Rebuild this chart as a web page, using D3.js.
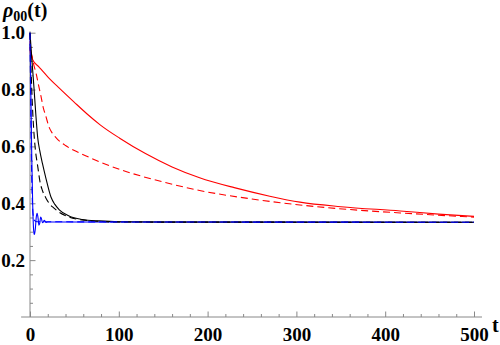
<!DOCTYPE html>
<html>
  <head>
    <style>
      body,
      html {
        margin: 0;
        padding: 0;
        background: #fff;
      }
      svg text {
        font-family: 'Liberation Serif', 'DejaVu Serif', 'Times New Roman', Times, serif !important;
        font-weight: bold;
        fill: #000;
      }
      .tick text {
        font-size: 19px;
      }
    </style>
  </head>
  <body>
    <svg id="svg" width="500" height="345"></svg>
    <script src="https://cdn.jsdelivr.net/npm/d3@7"></script>
    <script>
      // values: [t, rho00]
      const redSolid = [
        [0, 0.95], [0.5, 0.92], [1, 0.94], [1.5, 0.915], [2, 0.92], [3, 0.905],
        [10, 0.88], [20, 0.845], [33, 0.805], [50, 0.755], [64, 0.715], [79, 0.676],
        [101, 0.629], [130, 0.575], [160, 0.528], [191, 0.49], [230, 0.455],
        [270, 0.425], [304, 0.404], [350, 0.388], [417, 0.373], [460, 0.362], [500, 0.354]
      ];
      const redDashed = [
        [0, 0.97], [2, 0.92], [4, 0.89], [7, 0.855], [10, 0.81], [12.4, 0.776],
        [15, 0.736], [18, 0.705], [21, 0.672], [24, 0.652], [28, 0.635], [31, 0.625],
        [40, 0.603], [55, 0.578], [70, 0.557], [79, 0.545], [108, 0.512], [150, 0.475],
        [191, 0.445], [250, 0.415], [304, 0.394], [360, 0.378], [417, 0.366],
        [460, 0.358], [500, 0.351]
      ];
      const blackSolid = [
        [0, 1.0], [2, 0.91], [4.4, 0.81], [6.5, 0.715], [8.7, 0.63], [11, 0.585],
        [14, 0.54], [18, 0.487], [23.6, 0.422], [28, 0.396], [33, 0.377], [44, 0.355],
        [59, 0.343], [78, 0.338], [100, 0.335], [150, 0.334], [500, 0.3333]
      ];
      const blackDashed = [
        [0, 1.0], [1, 0.89], [2, 0.8], [3, 0.725], [4.5, 0.645], [6, 0.59], [8.7, 0.53],
        [11.3, 0.475], [14, 0.445], [18, 0.418], [22, 0.398], [27, 0.383], [33, 0.368],
        [42, 0.354], [55, 0.343], [75, 0.337], [100, 0.334], [500, 0.3333]
      ];
      const blueSolid = [
        [0, 1.0], [1, 0.78], [2, 0.56], [3, 0.4], [4, 0.31], [4.8, 0.29], [6, 0.31],
        [7, 0.35], [8, 0.365], [9, 0.35], [10, 0.323], [11, 0.33], [12, 0.352],
        [13, 0.345], [14, 0.332], [15, 0.334], [16, 0.34], [17, 0.337], [18, 0.333],
        [20, 0.334], [500, 0.3333]
      ];
      const blueDashed = [
        [0, 1.0], [0.8, 0.75], [1.6, 0.55], [2.5, 0.42], [3.5, 0.36], [5, 0.34],
        [8, 0.335], [500, 0.3333]
      ];
      const xMajor = [0, 100, 200, 300, 400, 500];
      const yMajor = [0.2, 0.4, 0.6, 0.8, 1.0];

      const series = [
        { data: redSolid, color: '#ff0000', dash: null },
        { data: redDashed, color: '#ff0000', dash: '7,4' },
        { data: blueSolid, color: '#0000ff', dash: null },
        { data: blackSolid, color: '#000000', dash: null },
        { data: blackDashed, color: '#000000', dash: '7,4' },
        { data: blueDashed, color: '#0000ff', dash: '7,4' }
      ];

      const svg = d3.select('#svg');
      const xScale = d3.scaleLinear().domain([0, 500]).range([30, 474]);
      const yScale = d3.scaleLinear().domain([0, 1]).range([317, 32.7]);

      const xMinor = d3.range(0, 501, 20).filter((t) => t % 100 !== 0);
      const yMinor = d3.range(0.05, 1.0, 0.05).filter((v) => Math.round(v * 20) % 4 !== 0);

      const axisColor = '#888';

      // axis lines
      svg
        .append('line')
        .attr('x1', xScale(-10))
        .attr('x2', xScale(509))
        .attr('y1', yScale(0))
        .attr('y2', yScale(0))
        .attr('stroke', axisColor);
      svg
        .append('line')
        .attr('x1', xScale(0))
        .attr('x2', xScale(0))
        .attr('y1', yScale(0))
        .attr('y2', yScale(1.005))
        .attr('stroke', axisColor);

      const styleAxis = (g) => {
        g.attr('font-family', null).attr('font-size', null);
        g.select('.domain').remove();
        g.selectAll('.tick line').attr('stroke', axisColor);
      };

      svg
        .append('g')
        .attr('transform', `translate(0,${yScale(0)})`)
        .call(d3.axisBottom(xScale).tickValues(xMinor).tickSize(-3).tickFormat(''))
        .call(styleAxis);
      svg
        .append('g')
        .attr('transform', `translate(0,${yScale(0)})`)
        .call(
          d3.axisBottom(xScale).tickValues(xMajor).tickSize(-5.5).tickPadding(11).tickFormat(d3.format('d'))
        )
        .call(styleAxis);

      svg
        .append('g')
        .attr('transform', `translate(${xScale(0)},0)`)
        .call(d3.axisLeft(yScale).tickValues(yMinor).tickSize(-3).tickFormat(''))
        .call(styleAxis);
      svg
        .append('g')
        .attr('transform', `translate(${xScale(0)},0)`)
        .call(
          d3.axisLeft(yScale).tickValues(yMajor).tickSize(-5.5).tickPadding(5).tickFormat(d3.format('.1f'))
        )
        .call(styleAxis);

      const linegen = d3
        .line()
        .x((d) => xScale(d[0]))
        .y((d) => yScale(d[1]))
        .curve(d3.curveMonotoneX);

      svg
        .append('g')
        .selectAll('path')
        .data(series)
        .enter()
        .append('path')
        .attr('d', (s) => linegen(s.data))
        .attr('fill', 'none')
        .attr('stroke', (s) => s.color)
        .attr('stroke-width', 1.1)
        .attr('stroke-dasharray', (s) => s.dash);

      // axis labels
      const yLabel = svg
        .append('text')
        .attr('x', 3)
        .attr('y', 17)
        .attr('font-size', 20);
      yLabel.append('tspan').attr('font-style', 'italic').text('ρ');
      yLabel.append('tspan').attr('font-size', 14).attr('dy', 4).text('00');
      yLabel.append('tspan').attr('dy', -4).text('(t)');

      svg
        .append('text')
        .attr('x', 492)
        .attr('y', 332)
        .attr('font-size', 20)
        .text('t');
    </script>
  </body>
</html>
